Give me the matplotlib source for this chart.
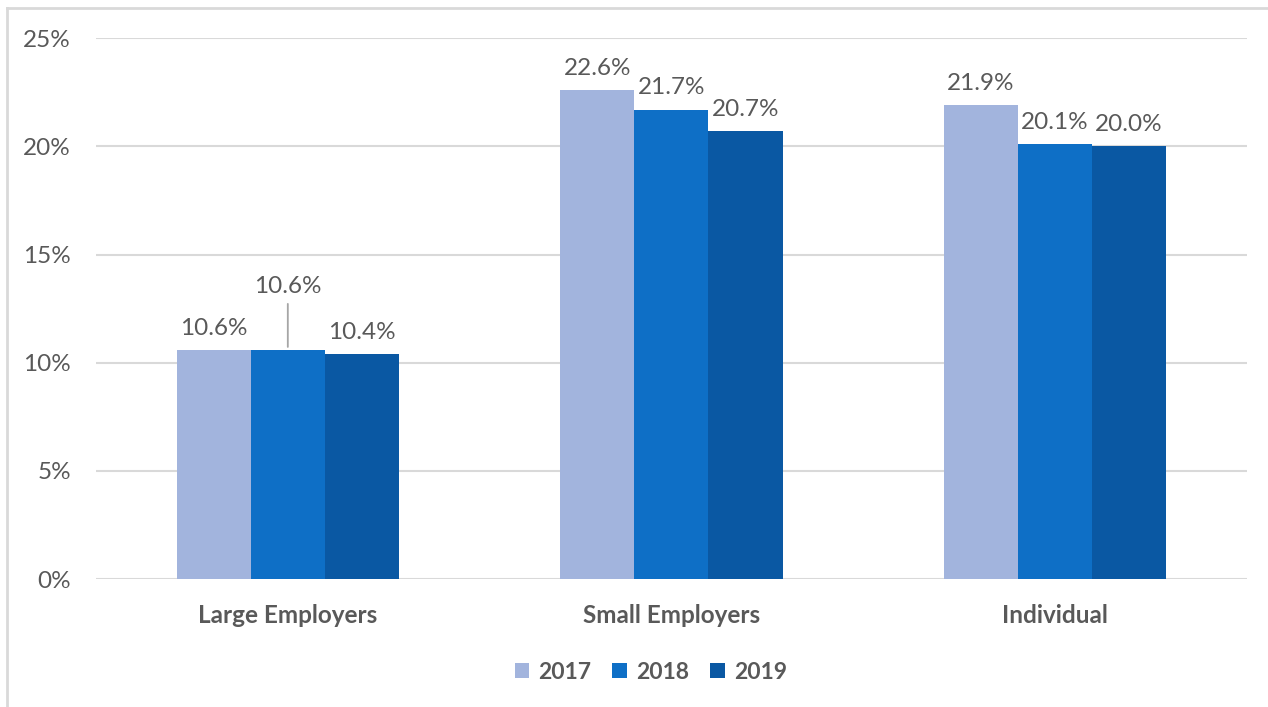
import numpy as np
import matplotlib.pyplot as plt
from matplotlib.lines import Line2D

# Data
categories = ["Large Employers", "Small Employers", "Individual"]
years = ["2017", "2018", "2019"]
values_2017 = [10.6, 22.6, 21.9]
values_2018 = [10.6, 21.7, 20.1]
values_2019 = [10.4, 20.7, 20.0]
yticks = [0, 5, 10, 15, 20, 25]

colors = ["#A2B4DD", "#0E6FC6", "#0A58A3"]
text_color = "#595959"
grid_color = "#D9D9D9"
fs = 17.5

plt.rcParams['font.family'] = ['Lato', 'DejaVu Sans']

fig = plt.figure(figsize=(12.68, 7.07), dpi=100)
ax = fig.add_axes([0.0757, 0.181, 0.9077, 0.765])

x = np.arange(len(categories))
width = 0.193
series = [values_2017, values_2018, values_2019]

for i, (vals, year) in enumerate(zip(series, years)):
    pos = x + (i - 1) * width
    ax.bar(pos, vals, width, color=colors[i], label=year, zorder=3)
    for j, (px, v) in enumerate(zip(pos, vals)):
        if i == 1 and j == 0:
            # label lifted above the neighbours, with a leader line
            ax.annotate(f"{v:.1f}%", xy=(px, v), xytext=(0, 38), textcoords="offset points",
                        ha="center", va="bottom", fontsize=fs, color=text_color)
            ax.annotate("", xy=(px, v), xytext=(0, 35), textcoords="offset points",
                        arrowprops=dict(arrowstyle="-", color="#A6A6A6", lw=1.3))
        else:
            ax.annotate(f"{v:.1f}%", xy=(px, v), xytext=(0, 8), textcoords="offset points",
                        ha="center", va="bottom", fontsize=fs, color=text_color)

ax.set_xlim(-0.5, 2.5)
ax.set_ylim(0, 25)
ax.set_yticks(yticks)
ax.set_yticklabels([f"{t}%" for t in yticks], fontsize=fs, color=text_color)
ax.set_xticks(x)
ax.set_xticklabels(categories, fontsize=fs, fontweight="bold", color=text_color)
ax.tick_params(axis="both", length=0)
ax.tick_params(axis="y", pad=18)
ax.tick_params(axis="x", pad=18)

ax.grid(axis="y", color=grid_color, linewidth=1.5, zorder=0)
for s in ax.spines.values():
    s.set_visible(False)

ax.legend(loc="upper center", bbox_to_anchor=(0.482, -0.115), ncol=3, frameon=False,
          prop={"weight": "bold", "size": 16.5}, labelcolor=text_color,
          handlelength=0.65, handleheight=0.65, handletextpad=0.4, columnspacing=0.9)

# Outer border (top and left only visible)
fig.add_artist(Line2D([7 / 1268, 7 / 1268], [0, 1 - 8 / 707], transform=fig.transFigure,
                      color=grid_color, lw=2))
fig.add_artist(Line2D([7 / 1268, 1], [1 - 8 / 707, 1 - 8 / 707], transform=fig.transFigure,
                      color=grid_color, lw=2))

fig.savefig("out.png", dpi=100)
